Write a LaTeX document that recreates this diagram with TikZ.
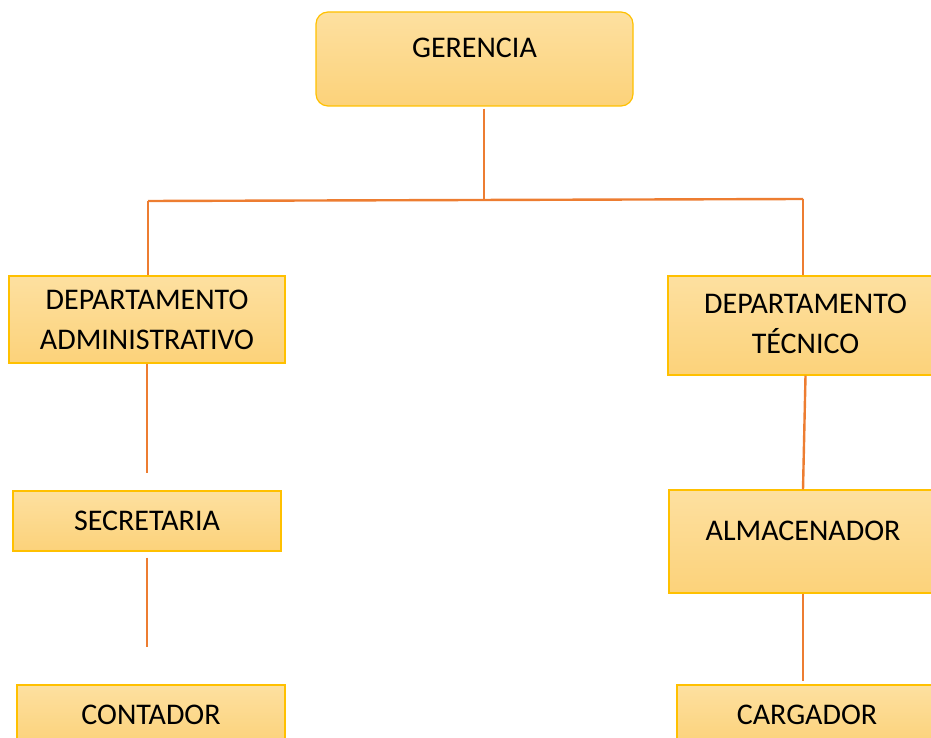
\documentclass[tikz,border=0pt]{standalone}
\usepackage{fontspec}
\setmainfont{Carlito}
\definecolor{borde}{RGB}{255,192,0}
\definecolor{claro}{RGB}{253,224,160}
\definecolor{oscuro}{RGB}{252,210,122}
\definecolor{linea}{RGB}{237,125,49}

\begin{document}
\begin{tikzpicture}[x=1pt,y=1pt,
    puesto/.style={draw=borde, line width=1.2pt, top color=claro, bottom color=oscuro,
      align=center, inner sep=0pt, font=\fontsize{30}{40}\selectfont},
    arriba/.style={text height=20pt, text depth=23pt},
    enlace/.style={draw=linea, line width=2.4pt}]
    \clip (0,0) rectangle (931,737);
    \node[puesto, rounded corners=12pt, minimum width=317pt, minimum height=94pt, arriba]
      (gerencia) at (474.5,678) {GERENCIA};
    \node[puesto, minimum width=276pt, minimum height=87pt]
      (admin) at (147,417.5) {DEPARTAMENTO\\ADMINISTRATIVO};
    \node[puesto, minimum width=275pt, minimum height=99pt, text depth=4pt]
      (tecnico) at (805.5,411.5) {DEPARTAMENTO\\TÉCNICO};
    \node[puesto, minimum width=268pt, minimum height=60pt]
      (secre) at (147,216) {SECRETARIA};
    \node[puesto, minimum width=268pt, minimum height=103pt, arriba]
      (almac) at (803,195.5) {ALMACENADOR};
    \node[puesto, minimum width=268pt, minimum height=60pt]
      (conta) at (151,22) {CONTADOR};
    \node[puesto, minimum width=260pt, minimum height=60pt]
      (carga) at (807,22) {CARGADOR};

    \coordinate (hub) at (484,537);
    \coordinate (busL) at (148,536);
    \coordinate (busR) at (803,538);
    \draw[enlace] (gerencia.south -| hub) ++(0,-2) -- (hub);
    \draw[enlace] (busL) -- (busR);
    \draw[enlace] (busL) -- (busL |- admin.north);
    \draw[enlace] (busR) -- (busR |- tecnico.north);
    \draw[enlace, shorten >=17pt] (admin.south) -- (secre.north);
    \draw[enlace, shorten <=6pt, shorten >=37pt] (secre.south) -- (secre.south |- conta.north);
    \draw[enlace] (tecnico.south) -- (almac.north);
    \draw[enlace, line width=1.5pt, shorten >=3pt] (almac.south) -- (almac.south |- carga.north);
\end{tikzpicture}
\end{document}
